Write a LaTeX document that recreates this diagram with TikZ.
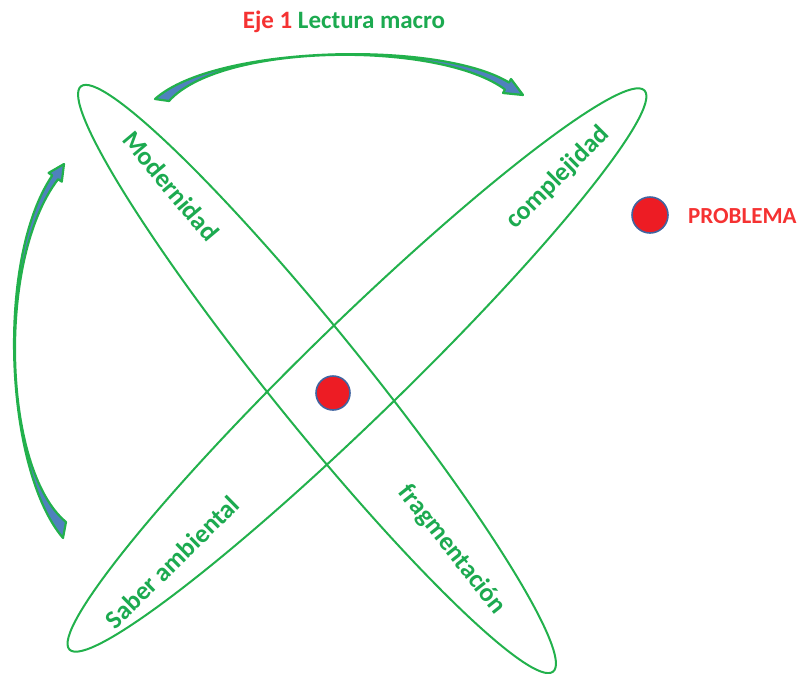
\documentclass[tikz,border=0pt]{standalone}
\usepackage{fontspec}
\setmainfont{Carlito}
\definecolor{gr}{RGB}{34,177,76}
\definecolor{tgr}{RGB}{28,170,80}
\definecolor{rd}{RGB}{237,28,36}
\definecolor{trd}{RGB}{245,50,50}
\definecolor{bl}{RGB}{79,129,189}
\definecolor{dbl}{RGB}{65,100,160}
\begin{document}
\begin{tikzpicture}[x=1pt,y=-1pt,
  ring/.style={draw=gr,line width=2pt},
  lbl/.style={font=\fontsize{26}{30}\selectfont\bfseries,text=tgr,inner sep=0pt},
  dot/.style={circle,fill=rd,draw=dbl,line width=1.6pt,inner sep=0pt},
  bigarrow/.style={fill=bl,draw=gr,line width=2.2pt,line join=round}]
\useasboundingbox (0,0) rectangle (803,673);
% ellipses
\coordinate (cA) at (317,379);
\coordinate (cB) at (357,370);
\draw[ring,rotate around={-51.1:(cA)}] (cA) ellipse (376 and 47);
\draw[ring,rotate around={44.2:(cB)}] (cB) ellipse (401 and 48);
% labels
\node[lbl,rotate=-50] (mod) at (171,186) {Modernidad};
\node[lbl,rotate=45] (comp) at (558,178) {complejidad};
\node[lbl,rotate=44.5] (sab) at (172,562) {Saber ambiental};
\node[lbl,rotate=-51.6] (frag) at (452,550) {fragmentación};
% dots
\node[dot,minimum size=34pt] (centro) at (333,393) {};
\node[dot,minimum size=36pt] (pdot) at (650,215) {};
\node[font=\fontsize{23}{27}\selectfont\bfseries,text=trd,anchor=west,inner sep=0pt] (prob) at (688,216) {PROBLEMA};
% title
\node[font=\fontsize{25}{30}\selectfont\bfseries,inner sep=0pt] (title) at (344,22) {\textcolor{trd}{Eje 1} \textcolor{tgr}{Lectura macro}};
% top curved arrow
\draw[bigarrow] (155,99) .. controls (215,45) and (440,40) .. (509,82.5)
  -- (511,79) -- (523,95) -- (503,93) -- (505,89.5)
  .. controls (440,41) and (222,42) .. (169,101) -- cycle;
% left curved arrow
\draw[bigarrow] (63,538) .. controls (5,470) and (-5,260) .. (52.3,175.4)
  -- (48.6,172.9) -- (64,164) -- (61.8,181.7) -- (58.1,179.2)
  .. controls (-4,260) and (3,470) .. (66,522) -- cycle;
\end{tikzpicture}
\end{document}
